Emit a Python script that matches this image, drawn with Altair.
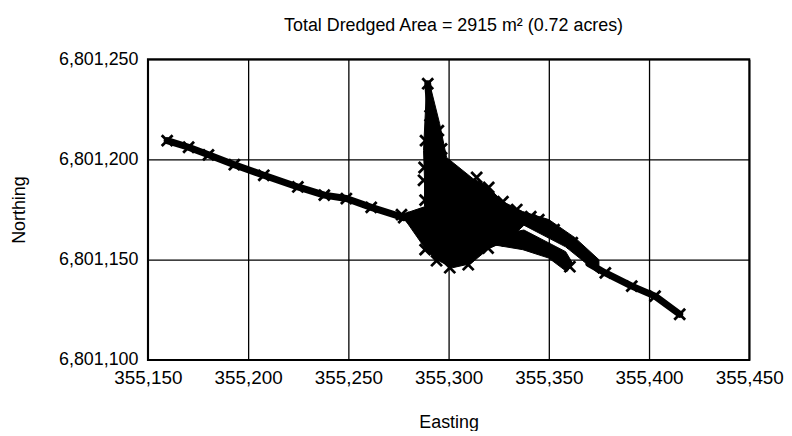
import altair as alt
import pandas as pd

# ---- data ----
x_ticks = [355150, 355200, 355250, 355300, 355350, 355400, 355450]
y_ticks = [6801100, 6801150, 6801200, 6801250]

# west arm of the dredge track
west_e = [355159.6, 355170.3, 355180.2, 355193.1, 355207.8, 355224.8, 355238.0, 355249.0, 355261.4, 355277.6]
west_n = [6801209.4, 6801206.1, 6801202.3, 6801197.4, 6801192.1, 6801186.3, 6801182.2, 6801180.5, 6801176.1, 6801171.0]

# north spike
north_e = [355289.6, 355290.8, 355292.5, 355291.5, 355292.0]
north_n = [6801237.8, 6801221.8, 6801214.4, 6801209.4, 6801200.0]

# east arm (upper track)
east_e = [355370.0, 355378.2, 355391.4, 355403.0, 355415.3]
east_n = [6801148.0, 6801143.4, 6801136.8, 6801131.8, 6801122.8]

# densely dredged central area with the upper east band (outline)
blob_e = [355289.0, 355291.0, 355295.5, 355299.0, 355312.2, 355318.8, 355327.0, 355337.0, 355350.0,
          355363.0, 355375.0, 355375.0, 355358.4, 355337.6, 355330.0, 355320.0, 355311.0, 355302.0,
          355294.0, 355288.0, 355276.5, 355288.0, 355288.0, 355287.5, 355289.0]
blob_n = [6801236.0, 6801236.0, 6801218.0, 6801201.0, 6801190.4, 6801187.1, 6801179.0, 6801174.0, 6801170.0,
          6801161.0, 6801150.0, 6801143.0, 6801156.4, 6801167.2, 6801160.0, 6801155.5, 6801148.0, 6801146.0,
          6801150.0, 6801156.0, 6801172.5, 6801176.4, 6801190.0, 6801204.5, 6801236.0]

# lower east band (outline)
band_e = [355328.0, 355337.6, 355358.4, 355362.0, 355359.0, 355350.0, 355337.0, 355322.0, 355328.0]
band_n = [6801163.0, 6801164.8, 6801154.0, 6801148.0, 6801144.0, 6801150.8, 6801155.0, 6801157.5, 6801163.0]

# fix markers
mark_e = [355289.6, 355290.8, 355294.9, 355288.5, 355296.5, 355287.5, 355288.3, 355287.8, 355276.5,
          355314.0, 355320.0, 355327.1, 355334.0, 355341.0, 355345.0, 355352.6, 355361.7,
          355288.3, 355294.0, 355300.6, 355309.8, 355319.7, 355329.0, 355360.5,
          355378.2, 355391.4, 355403.0, 355415.3]
mark_n = [6801237.8, 6801221.8, 6801214.4, 6801209.4, 6801205.3, 6801189.6, 6801179.7, 6801196.0, 6801172.5,
          6801191.0, 6801186.0, 6801178.9, 6801175.0, 6801171.5, 6801170.0, 6801165.0, 6801158.5,
          6801155.0, 6801149.5, 6801146.0, 6801147.5, 6801155.8, 6801159.5, 6801146.5,
          6801143.4, 6801136.8, 6801131.8, 6801122.8]


def frame(e, n, grp):
    return pd.DataFrame({"E": e, "N": n, "grp": grp, "idx": list(range(len(e)))})


tracks = pd.concat([
    frame(west_e, west_n, "west"),
    frame(north_e, north_n, "north"),
    frame(east_e, east_n, "east"),
], ignore_index=True)

polys = pd.concat([
    frame(blob_e, blob_n, "blob"),
    frame(band_e, band_n, "band"),
], ignore_index=True)

markers = pd.concat([
    frame(west_e, west_n, "m"),
    frame(mark_e, mark_n, "m"),
], ignore_index=True)

FONT = "Liberation Sans"

x_scale = alt.Scale(domain=[355150, 355450], nice=False, zero=False)
y_scale = alt.Scale(domain=[6801100, 6801250], nice=False, zero=False)

x_axis = alt.Axis(title="Easting", values=x_ticks, labelExpr="format(datum.value, ',')",
                  grid=True, ticks=False, domain=False, labelPadding=9, titlePadding=26,
                  labelFontSize=19, labelFlush=False, labelOverlap=False)
y_axis = alt.Axis(title="Northing", values=y_ticks, labelExpr="format(datum.value, ',')",
                  grid=True, ticks=False, domain=False, labelPadding=10, titlePadding=30,
                  labelFontSize=18, labelFlush=False, labelOverlap=False)

X = alt.X("E:Q", scale=x_scale, axis=x_axis)
Y = alt.Y("N:Q", scale=y_scale, axis=y_axis)

poly_layer = alt.Chart(polys).mark_line(fill="black", stroke="black", strokeWidth=1,
                                         strokeJoin="round").encode(
    x=X, y=Y, detail="grp:N", order=alt.Order("idx:Q"))

line_layer = alt.Chart(tracks).mark_line(color="black", strokeWidth=7, strokeJoin="round",
                                          strokeCap="round").encode(
    x=X, y=Y, detail="grp:N", order=alt.Order("idx:Q"))

marker_layer = alt.Chart(markers).mark_point(shape="M-1,-1L1,1M1,-1L-1,1", size=120, filled=False,
                                             stroke="black", strokeWidth=2.8, opacity=1).encode(
    x=X, y=Y)

chart = alt.layer(poly_layer, line_layer, marker_layer).properties(
    width=606,
    height=303,
    title=alt.TitleParams(
        text="Total Dredged Area = 2915 m² (0.72 acres)",
        font=FONT, fontSize=18, fontWeight="normal", color="black",
        anchor="middle", offset=15, dx=5,
    ),
    autosize="none",
    padding={"left": 141, "top": 50, "right": 35, "bottom": 70},
    background="white",
).configure_view(
    stroke="black", strokeWidth=2
).configure_axis(
    labelFont=FONT, labelColor="black",
    titleFont=FONT, titleFontSize=18, titleFontWeight="normal", titleColor="black",
    gridColor="black", gridWidth=1.3, gridOpacity=1,
)

chart.save("out.html", embed_options={"renderer": "svg", "actions": False})
